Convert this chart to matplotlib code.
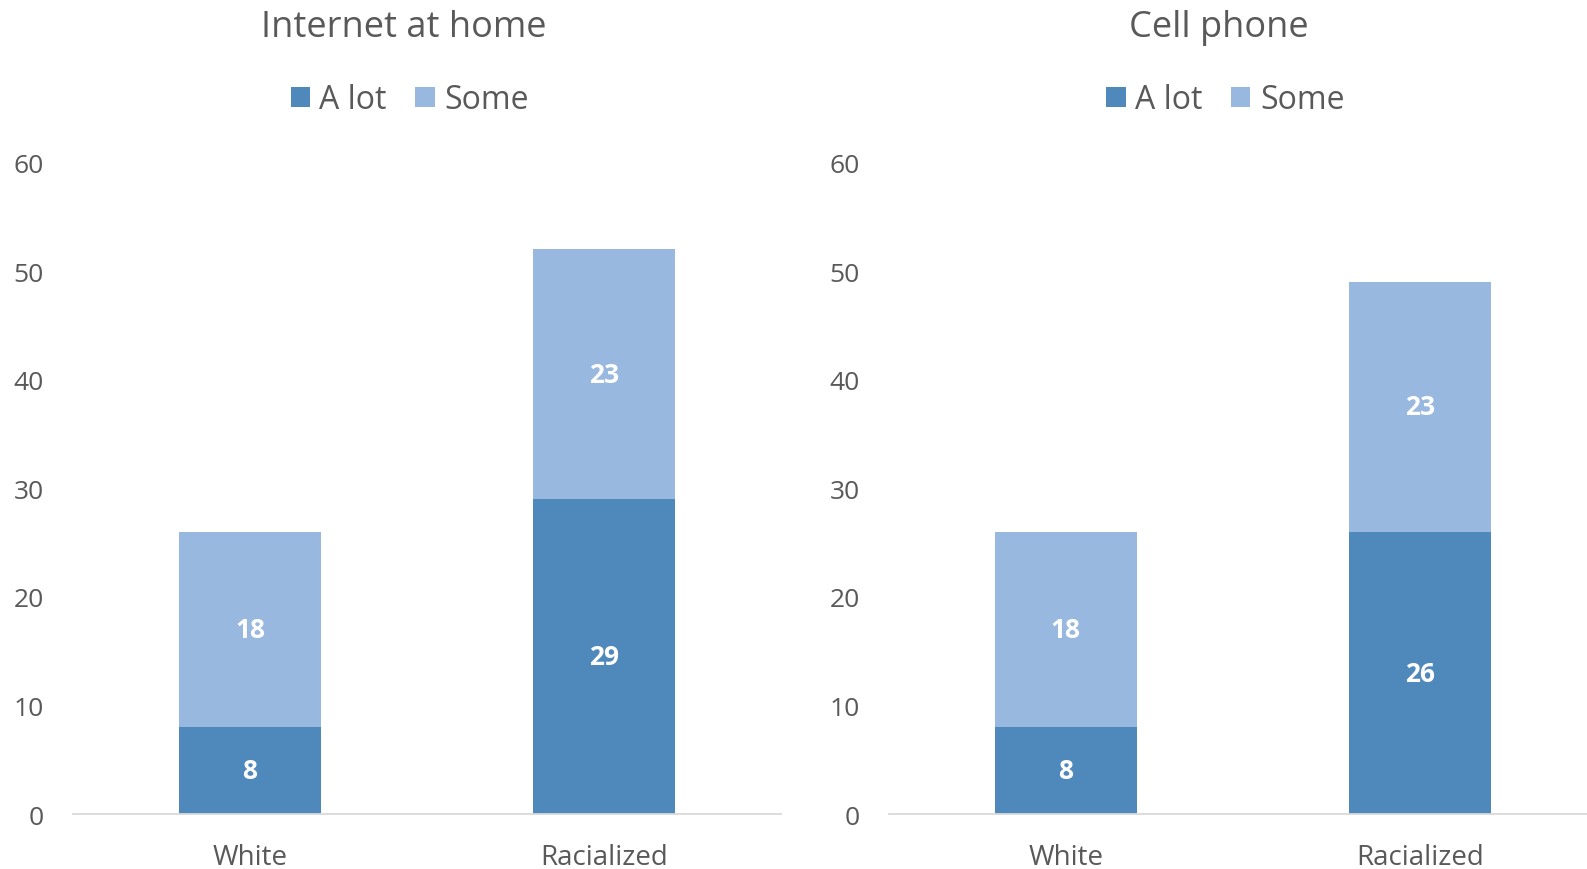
import matplotlib.pyplot as plt

CATEGORIES = ['White', 'Racialized']
PANEL_TITLES = ['Internet at home', 'Cell phone']
A_LOT = [[8, 29], [8, 26]]
SOME = [[18, 23], [18, 23]]
SERIES_NAMES = ['A lot', 'Some']
Y_TICKS = [0, 10, 20, 30, 40, 50, 60]

DARK = '#4F88BB'
LIGHT = '#98B8DF'
TEXT = '#595959'

plt.rcParams['font.family'] = ['Open Sans', 'DejaVu Sans']

fig = plt.figure(figsize=(15.87, 8.70), dpi=100)

panel_lefts = [0.0459, 0.560]
for i in range(2):
    ax = fig.add_axes([panel_lefts[i], 0.0630, 0.4464, 0.7490])
    x = list(range(len(CATEGORIES)))
    b1 = ax.bar(x, A_LOT[i], width=0.4, color=DARK, label=SERIES_NAMES[0])
    b2 = ax.bar(x, SOME[i], width=0.4, bottom=A_LOT[i], color=LIGHT, label=SERIES_NAMES[1])
    for bars, vals, bottoms in [(b1, A_LOT[i], [0, 0]), (b2, SOME[i], A_LOT[i])]:
        for bar, v, b in zip(bars, vals, bottoms):
            ax.text(bar.get_x() + bar.get_width() / 2, b + v / 2, str(v),
                    ha='center', va='center', color='white', fontsize=19, fontweight='bold')
    ax.set_xlim(-0.5, 1.5)
    ax.set_ylim(0, 60)
    ax.set_yticks(Y_TICKS)
    ax.set_xticks(x)
    ax.set_xticklabels(CATEGORIES)
    ax.tick_params(axis='y', length=0, pad=21, labelsize=19, labelcolor=TEXT)
    ax.tick_params(axis='x', length=0, pad=21, labelsize=20, labelcolor=TEXT)
    for side in ['left', 'right', 'top']:
        ax.spines[side].set_visible(False)
    ax.spines['bottom'].set_color('#D9D9D9')
    ax.spines['bottom'].set_linewidth(1.3)
    ax.set_facecolor('none')

    center = panel_lefts[i] + 0.4464 / 2 - 0.015
    fig.text(center, 0.968, PANEL_TITLES[i], ha='center', va='center', fontsize=26, color=TEXT)
    leg = fig.legend(handles=[b1, b2], loc='center', bbox_to_anchor=(center + 0.004, 0.884),
                     ncol=2, frameon=False, fontsize=23, handlelength=0.6, handleheight=0.6,
                     handletextpad=0.3, columnspacing=0.9)
    for t in leg.get_texts():
        t.set_color(TEXT)

fig.savefig('out.png', dpi=100)
